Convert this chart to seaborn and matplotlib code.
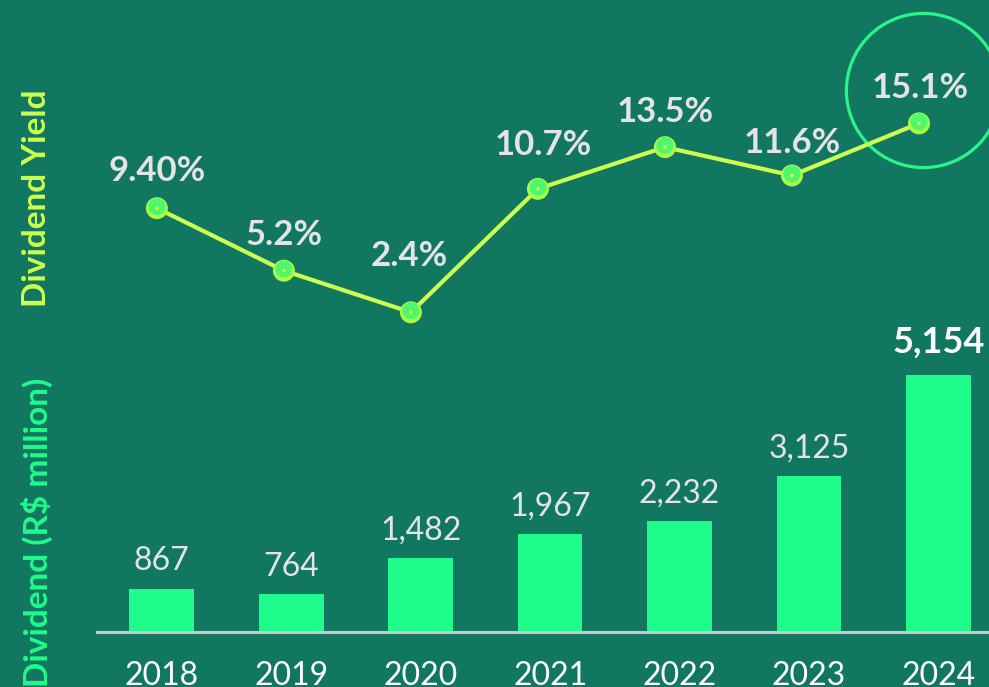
import matplotlib
matplotlib.use("Agg")
import matplotlib.pyplot as plt
import matplotlib.transforms as mtransforms
import seaborn as sns
import pandas as pd

# Data
years = ["2018", "2019", "2020", "2021", "2022", "2023", "2024"]
dividends = [867, 764, 1482, 1967, 2232, 3125, 5154]
yield_pct = [9.40, 5.2, 2.4, 10.7, 13.5, 11.6, 15.1]
yield_decimals = [2, 1, 1, 1, 1, 1, 1]

BG = "#127760"
BAR = "#1EFC8C"
LINE = "#CCFF4F"
TXT = "#E4E4E4"
FONT = "Lato"

sns.set_theme(style="white")
plt.rcParams["font.family"] = [FONT, "DejaVu Sans"]

df = pd.DataFrame({"year": years, "dividend": dividends, "yield": yield_pct})
df["pos"] = range(len(df))

fig = plt.figure(figsize=(9.89, 6.87), dpi=100, facecolor=BG)

# Lower panel: dividends bars
ax_b = fig.add_axes([0.098, 0.080, 0.902, 0.413])
ax_b.set_facecolor("none")
sns.barplot(data=df, x="year", y="dividend", color=BAR, width=0.5,
            saturation=1, linewidth=0, edgecolor="none", ax=ax_b)
ax_b.set_xlim(-0.5, 6.39)
ax_b.set_ylim(0, 5700)
for s in ["top", "right", "left"]:
    ax_b.spines[s].set_visible(False)
ax_b.spines["bottom"].set_color("#C8C8C8")
ax_b.spines["bottom"].set_linewidth(2.2)
ax_b.set_yticks([])
ax_b.set_xlabel("")
ax_b.set_ylabel("")
ax_b.tick_params(axis="x", length=0, pad=21, labelsize=23, labelcolor="white")
for lab in ax_b.get_xticklabels():
    lab.set_fontfamily([FONT, "DejaVu Sans"])

for i, v in enumerate(dividends):
    last = i == len(dividends) - 1
    ax_b.annotate(f"{v:,}", (i, v), xytext=(0, 9 if not last else 12),
                  textcoords="offset points", ha="center", va="bottom",
                  fontsize=26 if last else 23,
                  fontweight="bold" if last else "normal",
                  color="white" if last else TXT)

# Upper panel: dividend yield line
ax_t = fig.add_axes([0.098, 0.4934, 0.902, 0.5066])
ax_t.set_facecolor("none")
sns.lineplot(data=df, x="pos", y="yield", color=LINE, linewidth=3, ax=ax_t,
             zorder=2)
ax_t.scatter(df["pos"], df["yield"], s=250, color="#A8FF45", zorder=3,
             edgecolors="none")
ax_t.scatter(df["pos"] , df["yield"], s=150, color="#4EF76E", zorder=4,
             edgecolors="none",
             transform=ax_t.transData + mtransforms.ScaledTranslation(
                 0, 1.2 / 72, fig.dpi_scale_trans))
ax_t.scatter(df["pos"], df["yield"], s=6, color="#E6FF40", zorder=5,
             edgecolors="none")
ax_t.set_xlim(-0.472, 6.551)
ax_t.set_ylim(0, 23.39)
ax_t.axis("off")

label_dy = [15, 14, 29, 20, 14, 12, 14]
label_dx = [0, 0, -1, 4, 0, 0, 1]
for i, (v, d) in enumerate(zip(yield_pct, yield_decimals)):
    ax_t.annotate(f"{v:.{d}f}%", (i, v), xytext=(label_dx[i], label_dy[i]),
                  textcoords="offset points", ha="center", va="bottom",
                  fontsize=25, fontweight="bold", color=TXT)

# Highlight ring around the latest yield
ring_off = mtransforms.ScaledTranslation(3 / 72, 24 / 72, fig.dpi_scale_trans)
ax_t.plot([df["pos"].iloc[-1]], [yield_pct[-1]], marker="o", ms=111,
          mfc="none", mec="#2AF58A", mew=2.3, linestyle="none",
          transform=ax_t.transData + ring_off, clip_on=False, zorder=1)

# Axis titles
fig.text(37 / 989, 1 - 198 / 687, "Dividend Yield", rotation=90, ha="center",
         va="center", fontsize=24, fontweight="bold", color=LINE)
fig.text(37 / 989, 1 - 378 / 687, "Dividend (R$ million)", rotation=90,
         ha="center", va="top", fontsize=24, fontweight="bold", color=BAR)

fig.savefig("out.png", dpi=100, facecolor=BG)
